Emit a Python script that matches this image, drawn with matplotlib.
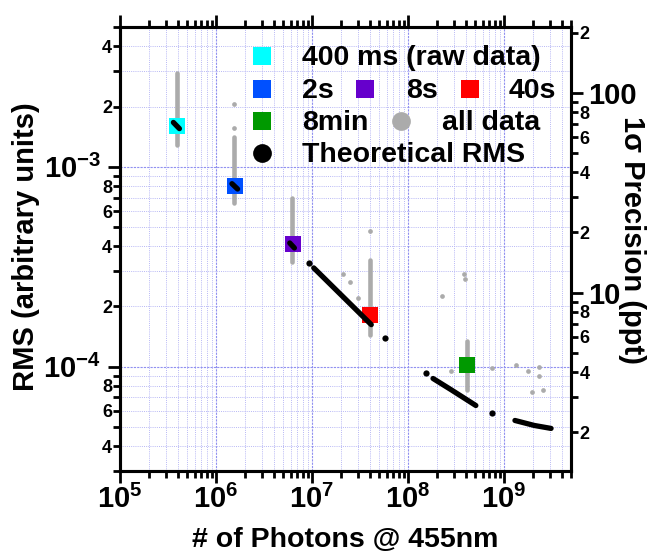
import numpy as np
import matplotlib
matplotlib.use("Agg")
import matplotlib.pyplot as plt
from matplotlib.ticker import LogLocator, FuncFormatter, NullFormatter

plt.rcParams["font.family"] = ["Liberation Sans", "DejaVu Sans"]
plt.rcParams["font.weight"] = "bold"
plt.rcParams["mathtext.fontset"] = "custom"
plt.rcParams["mathtext.bf"] = "Liberation Sans:bold"
plt.rcParams["mathtext.rm"] = "Liberation Sans:bold"

# ---- data ----
mean_labels = ["400 ms (raw data)", "2s", "8s", "40s", "8min"]
mean_photons = [3.90e5, 1.59e6, 6.30e6, 4.01e7, 4.08e8]
mean_rms = [1.60e-3, 8.04e-4, 4.11e-4, 1.82e-4, 1.015e-4]

# grey "all data": dense vertical streaks (one per integration time)
streak_photons = [3.89e5, 1.55e6, 6.21e6, 3.985e7, 4.08e8]
streak_rms_hi = [2.95e-3, 1.41e-3, 7.00e-4, 3.43e-4, 1.34e-4]
streak_rms_lo = [1.29e-3, 6.60e-4, 3.35e-4, 1.445e-4, 7.67e-5]

# grey "all data": isolated points
outlier_photons = [1.551e6, 1.551e6, 3.985e7, 2.12e7, 2.52e7, 3.01e7,
                   3.85e8, 3.94e8, 2.29e8, 2.796e8, 7.44e8, 1.325e9,
                   1.794e9, 2.337e9, 2.337e9, 1.975e9, 2.555e9]
outlier_rms = [2.06e-3, 1.555e-3, 4.75e-4, 2.92e-4, 2.65e-4, 2.19e-4,
               2.91e-4, 2.75e-4, 2.26e-4, 9.47e-5, 9.80e-5, 1.015e-4,
               9.47e-5, 9.92e-5, 8.94e-5, 7.44e-5, 7.59e-5]

# theoretical RMS: dense runs of points (drawn as runs) and single points
theory_run_photons = [
    [3.60e5, 4.16e5],
    [1.468e6, 1.679e6],
    [5.87e6, 6.56e6],
    [1.044e7, 4.15e7],
    [1.826e8, 2.796e8, 5.10e8],
    [1.303e9, 2.073e9, 3.10e9],
]
theory_run_rms = [
    [1.665e-3, 1.55e-3],
    [8.22e-4, 7.73e-4],
    [4.15e-4, 3.92e-4],
    [3.115e-4, 1.62e-4],
    [8.71e-5, 7.67e-5, 6.38e-5],
    [5.37e-5, 5.07e-5, 4.90e-5],
]
theory_dot_photons = [9.42e6, 5.81e7, 1.558e8, 7.44e8]
theory_dot_rms = [3.30e-4, 1.39e-4, 9.23e-5, 5.87e-5]

X_LIM = (1e5, 5e9)
Y_LIM = (3e-5, 5e-3)
PPT_PER_RMS = 100 / 2.344e-3   # right axis: 100 ppt sits at RMS 2.344e-3

# ---- style ----
MEAN_COLORS = ["#00FFFF", "#0050FF", "#6600CC", "#FF0000", "#009900"]
GREY = "#ABABAB"
GRID_MINOR = "#B8B8F5"
GRID_MAJOR = "#9090F0"

FIG_W, FIG_H = 651, 556
AX_L, AX_R, AX_T, AX_B = 120, 571, 27, 471


def px_axes(px, py):
    return (px - AX_L) / (AX_R - AX_L), (AX_B - py) / (AX_B - AX_T)


def minor_label(v, pos):
    e = np.floor(np.log10(v) + 1e-9)
    m = int(round(v / 10 ** e))
    return str(m) if m in (2, 4, 6, 8) else ""


def style_ticks(a, axis):
    a.tick_params(axis=axis, which="major", direction="out", length=8.6,
                  width=2.0, labelsize=21)
    a.tick_params(axis=axis, which="minor", direction="out", length=5.2,
                  width=2.0, labelsize=13)


fig = plt.figure(figsize=(FIG_W / 100, FIG_H / 100), dpi=100)
ax = fig.add_axes([AX_L / FIG_W, 1 - AX_B / FIG_H,
                   (AX_R - AX_L) / FIG_W, (AX_B - AX_T) / FIG_H])
ax.set_xscale("log")
ax.set_yscale("log")
ax.set_xlim(*X_LIM)
ax.set_ylim(*Y_LIM)

# grid
ax.grid(which="minor", color=GRID_MINOR, ls=(0, (1, 1.2)), lw=0.7, zorder=0)
ax.grid(which="major", color=GRID_MAJOR, ls=(0, (2, 1)), lw=0.8, zorder=0)
ax.set_axisbelow(True)

# grey all data
for x, lo, hi in zip(streak_photons, streak_rms_lo, streak_rms_hi):
    ax.plot([x, x], [lo, hi], color=GREY, lw=3.3, solid_capstyle="round", zorder=2)
ax.plot(outlier_photons, outlier_rms, "o", color=GREY, ms=3.4, mew=0, zorder=2)

# means
for x, y, c in zip(mean_photons, mean_rms, MEAN_COLORS):
    ax.plot([x], [y], "s", color=c, ms=12, mew=0, zorder=3)

# theoretical
for xs, ys in zip(theory_run_photons, theory_run_rms):
    ax.plot(xs, ys, color="black", lw=3.8, solid_capstyle="round", zorder=4)
ax.plot(theory_dot_photons, theory_dot_rms, "o", color="black", ms=4.5, mew=0, zorder=4)

# axes frame and ticks
for s in ax.spines.values():
    s.set_linewidth(2.2)
ax.xaxis.set_major_locator(LogLocator(base=10, numticks=12))
ax.xaxis.set_minor_locator(LogLocator(base=10, subs=np.arange(2, 10), numticks=12))
ax.xaxis.set_major_formatter(FuncFormatter(
    lambda v, p: r"$\mathbf{10^{%d}}$" % round(np.log10(v))))
ax.xaxis.set_minor_formatter(NullFormatter())
ax.yaxis.set_major_locator(LogLocator(base=10, numticks=12))
ax.yaxis.set_minor_locator(LogLocator(base=10, subs=np.arange(2, 10), numticks=12))
ax.yaxis.set_major_formatter(FuncFormatter(
    lambda v, p: r"$\mathbf{10^{%d}}$" % round(np.log10(v))))
ax.yaxis.set_minor_formatter(FuncFormatter(minor_label))
style_ticks(ax, "x")
style_ticks(ax, "y")
ax.tick_params(axis="x", which="both", top=True, labeltop=False, pad=1)
ax.tick_params(axis="y", which="major", pad=5)
ax.tick_params(axis="y", which="minor", pad=0.5)

# right axis: precision in ppt
ax2 = ax.twinx()
ax2.set_yscale("log")
ax2.set_ylim(Y_LIM[0] * PPT_PER_RMS, Y_LIM[1] * PPT_PER_RMS)
ax2.yaxis.set_major_locator(LogLocator(base=10, numticks=12))
ax2.yaxis.set_minor_locator(LogLocator(base=10, subs=np.arange(2, 10), numticks=12))
ax2.yaxis.set_major_formatter(FuncFormatter(lambda v, p: "%d" % round(v)))
ax2.yaxis.set_minor_formatter(FuncFormatter(minor_label))
style_ticks(ax2, "y")
ax2.tick_params(axis="y", which="major", pad=4)
ax2.tick_params(axis="y", which="minor", pad=1)
for s in ax2.spines.values():
    s.set_linewidth(2.2)

# labels
ax.set_xlabel("# of Photons @ 455nm", fontsize=20.5, fontweight="bold")
ax.xaxis.label.set_va("center")
ax.xaxis.set_label_coords(*px_axes(345, 540))
ax.set_ylabel("RMS (arbitrary units)", fontsize=21, fontweight="bold")
ax.yaxis.label.set(va="center", ha="center")
ax.yaxis.set_label_coords(*px_axes(26, 247))
ax2.set_ylabel("1\u03c3 Precision (ppt)", fontsize=21, fontweight="bold", rotation=270)
ax2.yaxis.label.set(va="center", ha="center")
ax2.yaxis.set_label_coords(*px_axes(632, 240))

# legend, laid out by hand in rows
legend_rows = [
    (65, [(262, 302, mean_labels[0], "s", MEAN_COLORS[0])]),
    (98, [(262, 302, mean_labels[1], "s", MEAN_COLORS[1]),
          (365, 406, mean_labels[2], "s", MEAN_COLORS[2]),
          (470, 509, mean_labels[3], "s", MEAN_COLORS[3])]),
    (130, [(262, 302, mean_labels[4], "s", MEAN_COLORS[4]),
           (401, 442, "all data", "o", GREY)]),
    (162.5, [(262, 302, "Theoretical RMS", "o", "black")]),
]
for base_y, items in legend_rows:
    for kx, tx, label, marker, color in items:
        key_x, key_y = px_axes(kx, base_y - 9.5)
        ax.plot([key_x], [key_y], marker, color=color, ms=13.5, mew=0,
                transform=ax.transAxes, clip_on=False, zorder=6)
        text_x, text_y = px_axes(tx, base_y)
        ax.text(text_x, text_y, label, transform=ax.transAxes, fontsize=20.5,
                fontweight="bold", ha="left", va="baseline", zorder=6)

fig.savefig("out.png", dpi=100)
